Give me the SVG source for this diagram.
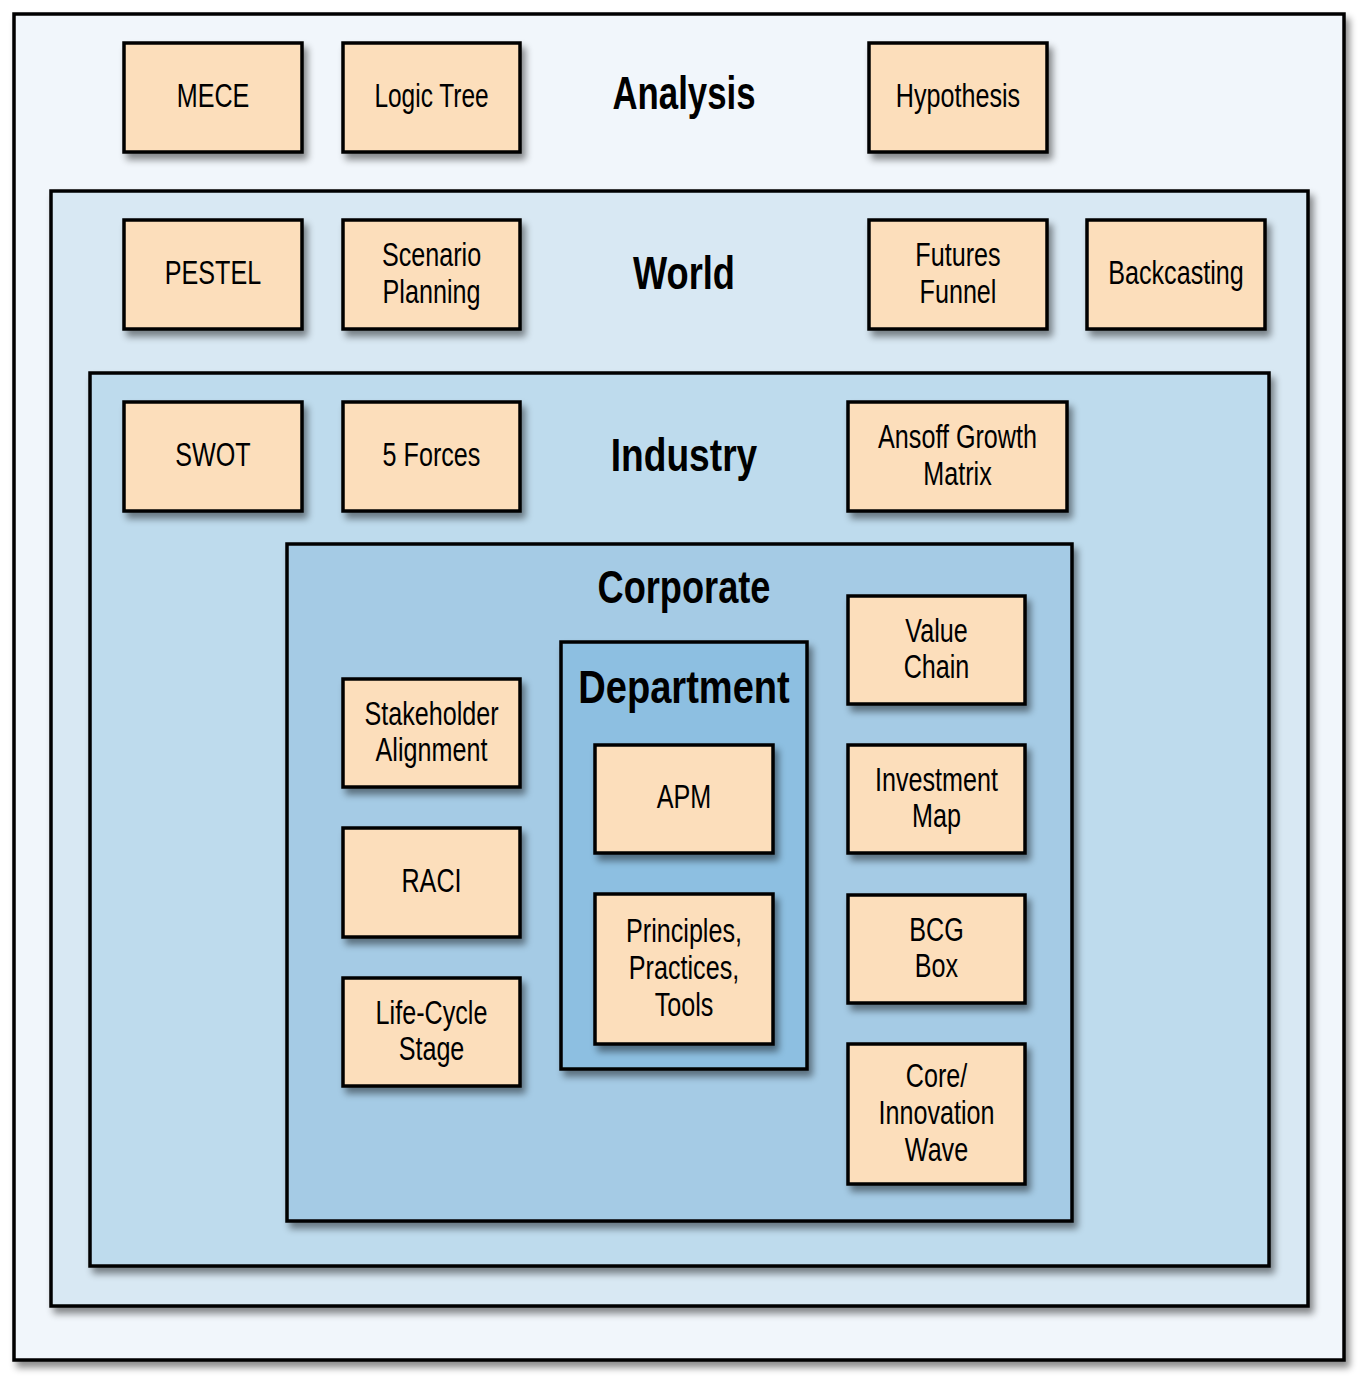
<svg xmlns="http://www.w3.org/2000/svg" width="1370" height="1386" viewBox="0 0 1370 1386">
<defs>
<filter id="sh" x="-10%" y="-10%" width="130%" height="130%">
<feDropShadow dx="4" dy="6" stdDeviation="3.5" flood-color="#000" flood-opacity="0.45"/>
</filter>
<style>
.c{stroke:#000;stroke-width:3.5;filter:url(#sh)}
.l0{fill:#F1F6FB}.l1{fill:#D8E8F3}.l2{fill:#BEDBED}.l3{fill:#A5CBE5}.l4{fill:#8DBFE1}
.n{fill:#FCDEBB;stroke:#000;stroke-width:3.5;filter:url(#sh)}
.t{font-family:"Liberation Sans",Arial,sans-serif;font-size:34px;fill:#000;text-anchor:middle}
.h{font-family:"Liberation Sans",Arial,sans-serif;font-size:47px;font-weight:bold;fill:#000;text-anchor:middle}
</style>
</defs>
<rect width="1370" height="1386" fill="#fff"/>
<g id="analysis">
<rect class="c l0" x="14" y="14" width="1330" height="1346"/>
<g transform="translate(684 109) scale(0.74 1)"><text class="h">Analysis</text></g>
</g>
<g id="world">
<rect class="c l1" x="51" y="191" width="1257" height="1115"/>
<g transform="translate(684 289) scale(0.77 1)"><text class="h">World</text></g>
</g>
<g id="industry">
<rect class="c l2" x="90" y="373" width="1179" height="893"/>
<g transform="translate(684 471) scale(0.79 1)"><text class="h">Industry</text></g>
</g>
<g id="corporate">
<rect class="c l3" x="287" y="544" width="785" height="677"/>
<g transform="translate(684 603) scale(0.77 1)"><text class="h">Corporate</text></g>
</g>
<g id="department">
<rect class="c l4" x="561" y="642" width="246" height="427"/>
<g transform="translate(684 703) scale(0.81 1)"><text class="h">Department</text></g>
</g>

<g id="mece"><rect class="n" x="124" y="43" width="178" height="109"/><g transform="translate(213 106.5) scale(0.74 1)"><text class="t">MECE</text></g></g>
<g id="logic-tree"><rect class="n" x="343" y="43" width="177" height="109"/><g transform="translate(431.5 106.5) scale(0.72 1)"><text class="t">Logic Tree</text></g></g>
<g id="hypothesis"><rect class="n" x="869" y="43" width="178" height="109"/><g transform="translate(958 106.5) scale(0.74 1)"><text class="t">Hypothesis</text></g></g>

<g id="pestel"><rect class="n" x="124" y="220" width="178" height="109"/><g transform="translate(213 283.5) scale(0.74 1)"><text class="t">PESTEL</text></g></g>
<g id="scenario-planning"><rect class="n" x="343" y="220" width="177" height="109"/><g transform="translate(431.5 266) scale(0.74 1)"><text class="t">Scenario</text><text class="t" y="37">Planning</text></g></g>
<g id="futures-funnel"><rect class="n" x="869" y="220" width="178" height="109"/><g transform="translate(958 266) scale(0.74 1)"><text class="t">Futures</text><text class="t" y="37">Funnel</text></g></g>
<g id="backcasting"><rect class="n" x="1087" y="220" width="178" height="109"/><g transform="translate(1176 283.5) scale(0.74 1)"><text class="t">Backcasting</text></g></g>

<g id="swot"><rect class="n" x="124" y="402" width="178" height="109"/><g transform="translate(213 465.5) scale(0.74 1)"><text class="t">SWOT</text></g></g>
<g id="five-forces"><rect class="n" x="343" y="402" width="177" height="109"/><g transform="translate(431.5 465.5) scale(0.74 1)"><text class="t">5 Forces</text></g></g>
<g id="ansoff"><rect class="n" x="848" y="402" width="219" height="109"/><g transform="translate(957.5 448) scale(0.74 1)"><text class="t">Ansoff Growth</text><text class="t" y="37">Matrix</text></g></g>

<g id="stakeholder"><rect class="n" x="343" y="679" width="177" height="108"/><g transform="translate(431.5 724.5) scale(0.74 1)"><text class="t">Stakeholder</text><text class="t" y="37">Alignment</text></g></g>
<g id="raci"><rect class="n" x="343" y="828" width="177" height="109"/><g transform="translate(431.5 891.5) scale(0.74 1)"><text class="t">RACI</text></g></g>
<g id="life-cycle"><rect class="n" x="343" y="978" width="177" height="108"/><g transform="translate(431.5 1023.5) scale(0.74 1)"><text class="t">Life-Cycle</text><text class="t" y="37">Stage</text></g></g>

<g id="apm"><rect class="n" x="595" y="745" width="178" height="108"/><g transform="translate(684 808) scale(0.74 1)"><text class="t">APM</text></g></g>
<g id="principles"><rect class="n" x="595" y="894" width="178" height="150"/><g transform="translate(684 942) scale(0.74 1)"><text class="t">Principles,</text><text class="t" y="37">Practices,</text><text class="t" y="74">Tools</text></g></g>

<g id="value-chain"><rect class="n" x="848" y="596" width="177" height="108"/><g transform="translate(936.5 641.5) scale(0.74 1)"><text class="t">Value</text><text class="t" y="37">Chain</text></g></g>
<g id="investment-map"><rect class="n" x="848" y="745" width="177" height="108"/><g transform="translate(936.5 790.5) scale(0.74 1)"><text class="t">Investment</text><text class="t" y="37">Map</text></g></g>
<g id="bcg-box"><rect class="n" x="848" y="895" width="177" height="108"/><g transform="translate(936.5 940.5) scale(0.74 1)"><text class="t">BCG</text><text class="t" y="37">Box</text></g></g>
<g id="core-innovation"><rect class="n" x="848" y="1044" width="177" height="140"/><g transform="translate(936.5 1087) scale(0.74 1)"><text class="t">Core/</text><text class="t" y="37">Innovation</text><text class="t" y="74">Wave</text></g></g>

<g id="connectors"></g>
</svg>
